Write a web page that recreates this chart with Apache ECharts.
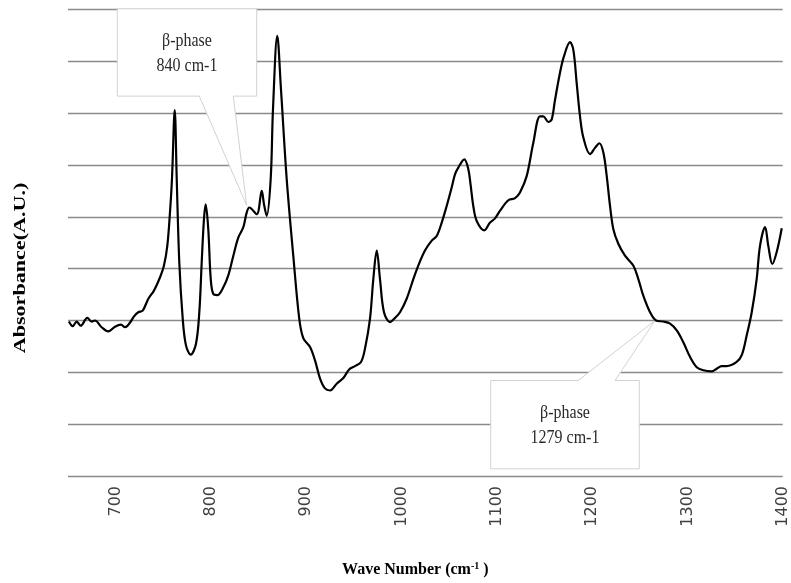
<!DOCTYPE html>
<html><head><meta charset="utf-8">
<script src="https://cdn.jsdelivr.net/npm/echarts@6.0.0/dist/echarts.min.js"></script>
<style>html,body{margin:0;padding:0;background:#fff}#c{width:791px;height:583px}</style>
</head><body><div id="c"></div>
<script>
const waveNumber = [651.0,654.9,659.1,663.3,670.3,674.9,678.3,685.4,692.3,699.3,705.6,709.8,715.1,719.3,723.8,728.4,734.3,740.3,746.5,750.7,754.2,757.0,759.1,762.0,764.1,766.8,770.4,773.8,778.8,784.3,787.8,790.3,792.7,794.5,797.2,799.8,802.5,806.7,813.0,818.2,823.5,828.7,834.0,837.5,840.3,848.0,853.3,855.7,858.5,862.7,865.1,869.6,873.5,879.5,886.4,892.7,896.9,904.0,909.2,914.5,919.7,925.0,932.0,938.9,945.2,951.2,957.5,961.7,966.9,970.4,974.0,977.4,981.6,987.9,993.2,998.4,1005.4,1012.4,1017.6,1024.6,1031.7,1036.9,1042.2,1047.4,1052.7,1056.1,1059.6,1065.9,1070.1,1072.4,1075.3,1078.9,1086.9,1092.9,1098.1,1103.4,1112.1,1119.1,1124.3,1131.4,1138.3,1145.3,1148.8,1154.1,1157.6,1161.1,1166.3,1170.5,1176.8,1180.3,1183.8,1187.3,1190.8,1197.8,1203.0,1207.6,1211.8,1215.3,1218.8,1222.3,1227.5,1234.5,1243.2,1248.5,1253.7,1260.8,1267.1,1274.7,1281.8,1288.8,1295.7,1302.7,1309.8,1316.7,1325.5,1330.7,1336.0,1341.3,1351.7,1357.0,1362.2,1367.5,1372.7,1376.2,1381.5,1384.9,1389.1,1393.7,1399.0];
const absorbance = [2.98,2.89,2.98,2.90,3.05,2.98,3.00,2.87,2.79,2.88,2.92,2.87,2.96,3.08,3.16,3.19,3.42,3.58,3.83,4.06,4.44,5.08,5.73,7.06,5.73,4.12,3.03,2.52,2.34,2.55,3.16,4.12,4.96,5.24,4.76,3.80,3.51,3.49,3.64,3.87,4.25,4.60,4.80,5.08,5.18,5.05,5.50,5.24,5.02,5.73,7.07,8.49,7.46,5.73,4.25,3.03,2.66,2.49,2.23,1.88,1.69,1.65,1.78,1.89,2.06,2.12,2.20,2.46,3.03,3.80,4.35,3.80,3.16,2.97,3.05,3.16,3.42,3.80,4.06,4.35,4.54,4.63,4.89,5.21,5.57,5.82,5.95,6.11,5.92,5.63,5.21,4.92,4.74,4.89,4.97,5.12,5.32,5.36,5.47,5.79,6.43,6.94,6.94,6.83,6.88,7.26,7.78,8.10,8.37,8.22,7.58,6.94,6.53,6.21,6.33,6.42,6.24,5.79,5.21,4.76,4.48,4.25,4.06,3.80,3.48,3.16,3.00,2.98,2.94,2.81,2.58,2.30,2.10,2.04,2.02,2.07,2.12,2.12,2.20,2.33,2.71,3.16,3.80,4.44,4.80,4.44,4.09,4.32,4.78];
const xTickLabels = [700, 800, 900, 1000, 1100, 1200, 1300, 1400];
const annotationTexts = [['β-phase', '840 cm-1'], ['β-phase', '1279 cm-1']];
const annotationAnchors = [[837.5, 5.22], [1266, 3.0]];

const chart = echarts.init(document.getElementById('c'), null, {renderer: 'canvas'});
const series = waveNumber.map((w, i) => [w, absorbance[i]]);

chart.setOption({
  animation: false,
  backgroundColor: '#fff',
  grid: {left: 68, right: 8.3, top: 9.5, bottom: 105.3, containLabel: false},
  xAxis: {
    type: 'value', min: 650, max: 1400,
    axisLine: {show: false}, axisTick: {show: false}, splitLine: {show: false},
    axisLabel: {
      customValues: xTickLabels, rotate: 90, margin: 10,
      formatter: v => String(v),
      fontFamily: 'DejaVu Sans', fontSize: 16, color: '#404040'
    },
    name: 'Wave Number (cm{sup|-1} )', nameLocation: 'middle', nameGap: 85,
    nameTextStyle: {
      fontFamily: 'Liberation Serif', fontWeight: 'bold', fontSize: 16, color: '#000',
      padding: [0, 20, 0, 0],
      rich: {sup: {fontFamily: 'Liberation Serif', fontWeight: 'bold', fontSize: 10, color: '#000', padding: [0, 0, 8, 0]}}
    }
  },
  yAxis: {
    type: 'value', min: 0, max: 9, interval: 1,
    axisLine: {show: false}, axisTick: {show: false}, axisLabel: {show: false},
    splitLine: {show: true, lineStyle: {color: '#8a8a8a', width: 1.4}}
  },
  series: [{
    type: 'line', data: series, smooth: 0.35, showSymbol: false, symbol: 'none',
    lineStyle: {color: '#000', width: 2.2}, z: 5
  }]
});

function boxShapes() {
  const els = [];
  const geo = [
    {L: -129.4, R: 10, T: -196.7, B: -109.3, p1: -47.4, p2: -13.4, down: true},
    {L: -164.3, R: -15.7, T: 60, B: 148.3, p1: -76.7, p2: -40, down: false}
  ];
  annotationAnchors.forEach((a, i) => {
    const [tx, ty] = chart.convertToPixel({gridIndex: 0}, a);
    const g = geo[i];
    let pts;
    if (g.down) {
      pts = [[g.L, g.T], [g.R, g.T], [g.R, g.B], [g.p2, g.B], [0, 0], [g.p1, g.B], [g.L, g.B]];
    } else {
      pts = [[g.L, g.T], [g.p1, g.T], [0, 0], [g.p2, g.T], [g.R, g.T], [g.R, g.B], [g.L, g.B]];
    }
    els.push({
      type: 'polygon', z: 1,
      shape: {points: pts.map(p => [tx + p[0], ty + p[1]])},
      style: {fill: '#fff', stroke: '#d2d2d2', lineWidth: 1}
    });
    els.push({
      type: 'text', z: 2,
      x: tx + (g.L + g.R) / 2, y: ty + (g.T + g.B) / 2 + 1,
      scaleY: 1.2,
      style: {
        text: annotationTexts[i].join('\n'), align: 'center', verticalAlign: 'middle',
        fontFamily: 'Liberation Serif', fontSize: 16, lineHeight: 21, fill: '#2a2a2a'
      }
    });
  });
  els.push({
    type: 'text', z: 2, x: 21, y: 268, rotation: Math.PI / 2, scaleX: 1.3,
    style: {
      text: 'Absorbance(A.U.)', align: 'center', verticalAlign: 'middle',
      fontFamily: 'Liberation Serif', fontWeight: 'bold', fontSize: 17, fill: '#000'
    }
  });
  return els;
}
chart.setOption({graphic: {elements: boxShapes()}});
</script>
</body></html>
